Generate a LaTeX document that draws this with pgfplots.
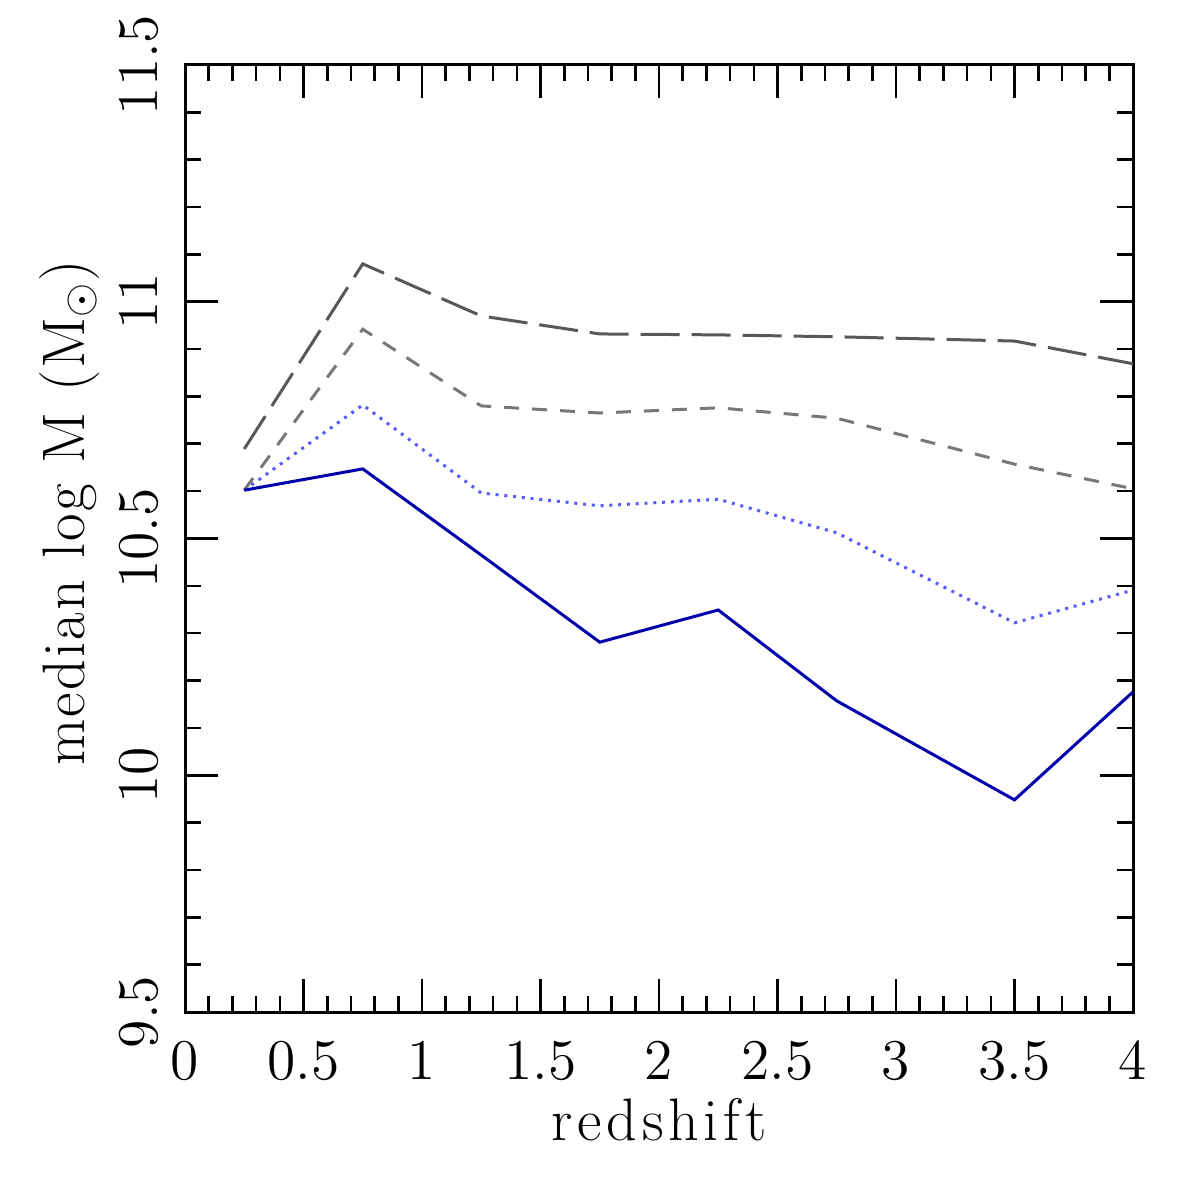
\documentclass[border=0pt]{standalone}
\usepackage{fontspec}
\usepackage{pgfplots}
\pgfplotsset{compat=1.18}

\newfontfamily\xlabelfont[LetterSpace=8]{Latin Modern Roman}
\newfontfamily\ylabelfont[LetterSpace=4]{Latin Modern Roman}

\definecolor{solidblue}{RGB}{0,0,170}
\definecolor{dotblue}{RGB}{90,90,255}
\definecolor{shortgray}{RGB}{120,120,120}
\definecolor{longgray}{RGB}{88,88,88}

% median stellar mass versus redshift
\pgfplotstableread{
z     m
0.25  10.602
0.75  10.647
1.25  10.465
1.75  10.281
2.25  10.349
2.75  10.157
3.5   9.948
4.0   10.176
}\solidtab

\pgfplotstableread{
z     m
0.25  10.602
0.75  10.782
1.25  10.596
1.75  10.569
2.25  10.583
2.75  10.512
3.5   10.322
4.0   10.391
}\dottab

\pgfplotstableread{
z     m
0.25  10.602
0.75  10.942
1.25  10.780
1.75  10.765
2.25  10.776
2.75  10.754
3.5   10.657
4.0   10.605
}\shorttab

\pgfplotstableread{
z     m
0.25  10.689
0.75  11.080
1.25  10.970
1.75  10.932
2.25  10.930
2.75  10.926
3.5   10.917
4.0   10.869
}\longtab

\begin{document}
\begin{tikzpicture}
\path[use as bounding box] (-46.25pt,-46pt) rectangle (252.75pt,253pt);
\begin{axis}[
  at={(0,0)}, anchor=south west,
  width=237pt, height=236.75pt, scale only axis,
  xmin=0, xmax=4, ymin=9.5, ymax=11.5,
  xtick={0,0.5,...,4}, ytick={9.5,10,...,11.5},
  minor x tick num=4, minor y tick num=4,
  tick align=inside, tick pos=both,
  major tick length=8.25pt, minor tick length=4pt,
  every tick/.style={line width=0.65pt, black},
  axis line style={line width=0.75pt, black},
  /pgf/number format/fixed,
  tick label style={font=\fontsize{14}{16}\selectfont},
  xticklabel style={anchor=north, inner sep=0pt, outer sep=7.5pt},
  yticklabel style={rotate=90, anchor=south, inner sep=0pt, outer sep=7pt},
  xlabel={\xlabelfont redshift},
  xlabel style={font=\fontsize{15}{18}\selectfont,
    at={(axis description cs:0.5,-0.1352)}, anchor=base},
  ylabel={\ylabelfont median log M (M$_{\odot}$)},
  ylabel style={font=\fontsize{15}{18}\selectfont,
    at={(axis description cs:-0.1055,0.527)}, anchor=base, rotate=0},
  clip=true,
]
\addplot[longgray, line width=0.75pt, dash pattern=on 9.75pt off 3pt] table[x=z,y=m] {\longtab};
\addplot[shortgray, line width=0.75pt, dash pattern=on 3.75pt off 3.25pt] table[x=z,y=m] {\shorttab};
\addplot[dotblue, line width=0.75pt, dash pattern=on 0.75pt off 1.45pt] table[x=z,y=m] {\dottab};
\addplot[solidblue, line width=0.75pt] table[x=z,y=m] {\solidtab};
\end{axis}
\end{tikzpicture}
\end{document}
